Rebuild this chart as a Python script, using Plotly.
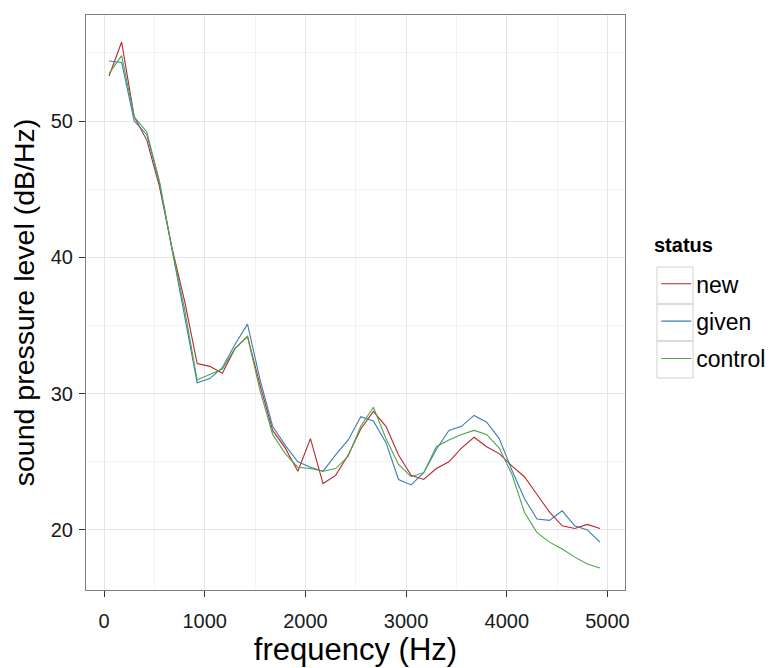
import plotly.graph_objects as go

freq = [50, 175, 300, 425, 550, 675, 800, 925, 1050, 1175,
        1300, 1425, 1550, 1675, 1800, 1925, 2050, 2175, 2300, 2425,
        2550, 2675, 2800, 2925, 3050, 3175, 3300, 3425, 3550, 3675,
        3800, 3925, 4050, 4175, 4300, 4425, 4550, 4675, 4800, 4925]

new = [53.3, 55.8, 50.3, 48.6, 45.2, 40.7, 36.8, 32.2, 32.0, 31.5,
       33.3, 34.2, 30.6, 27.3, 26.0, 24.3, 26.7, 23.4, 24.0, 25.5,
       27.4, 28.7, 27.6, 25.5, 24.0, 23.7, 24.5, 25.0, 26.0, 26.8,
       26.1, 25.6, 24.7, 23.9, 22.6, 21.3, 20.3, 20.1, 20.4, 20.1]

given = [54.4, 54.3, 50.0, 49.0, 45.5, 40.5, 35.8, 30.8, 31.1, 31.9,
         33.6, 35.1, 31.0, 27.6, 26.2, 25.0, 24.6, 24.3, 25.5, 26.6,
         28.3, 28.0, 26.4, 23.7, 23.3, 24.2, 25.9, 27.3, 27.6, 28.4,
         27.9, 26.7, 24.4, 22.3, 20.8, 20.7, 21.4, 20.3, 20.0, 19.1]

control = [53.5, 54.8, 50.3, 49.2, 45.6, 40.6, 36.2, 31.0, 31.4, 31.8,
           33.3, 34.2, 30.2, 27.0, 25.6, 24.6, 24.5, 24.3, 24.5, 25.4,
           27.6, 29.0, 26.7, 24.8, 23.9, 24.2, 26.1, 26.6, 27.0, 27.3,
           27.0, 26.0, 24.1, 21.3, 19.8, 19.1, 18.6, 18.0, 17.5, 17.2]

series = [("new", new, "#B8262E"), ("given", given, "#3A7DB4"), ("control", control, "#4DA64A")]

FONT = "Liberation Sans, Arial, sans-serif"

fig = go.Figure()
for i, (name, vals, col) in enumerate(series):
    fig.add_trace(go.Scatter(x=freq, y=vals, mode="lines", name=name,
                             legendgroup=name,
                             line=dict(color=col, width=1.1)))

axis_common = dict(
    showline=True, mirror=True, linecolor="#7F7F7F", linewidth=1,
    showgrid=True, gridcolor="#E6E6E6", gridwidth=1.2,
    zeroline=False, ticks="outside", ticklen=6, tickcolor="#333333",
    tickfont=dict(family=FONT, size=20, color="#1A1A1A"),
    automargin=False,
)

fig.update_xaxes(range=[-179, 5174], tickvals=[0, 1000, 2000, 3000, 4000, 5000],
                 ticklabelstandoff=7,
                 minor=dict(tickvals=[500, 1500, 2500, 3500, 4500], showgrid=True,
                            gridcolor="#F3F3F3", gridwidth=0.7, ticks=""),
                 title=dict(text="frequency (Hz)", font=dict(family=FONT, size=31, color="#000"),
                            standoff=2),
                 **axis_common)
fig.update_yaxes(range=[15.59, 57.78], tickvals=[20, 30, 40, 50],
                 ticklabelstandoff=2,
                 minor=dict(tickvals=[25, 35, 45, 55], showgrid=True,
                            gridcolor="#F3F3F3", gridwidth=0.7, ticks=""),
                 title=dict(text="sound pressure level (dB/Hz)", font=dict(family=FONT, size=28.5, color="#000"),
                            standoff=7),
                 **axis_common)

# legend key boxes (ggplot style)
shapes = []
for j in range(3):
    y0 = 0.5617 - j * 0.0643
    shapes.append(dict(type="rect", xref="paper", yref="paper",
                       x0=1.0594, x1=1.1262, y0=y0 - 0.0643, y1=y0,
                       line=dict(color="#D0D0D0", width=1), fillcolor="rgba(0,0,0,0)", layer="below"))

fig.update_layout(
    width=774, height=668,
    margin=dict(l=78, r=157, t=7, b=86),
    plot_bgcolor="white", paper_bgcolor="white",
    font=dict(family=FONT),
    shapes=shapes,
    annotations=[dict(text="<b>status</b>", xref="paper", yref="paper", x=1.05, y=0.6,
                      xanchor="left", yanchor="middle", showarrow=False,
                      font=dict(family=FONT, size=20, color="#000"))],
    legend=dict(x=1.058, y=0.57, xanchor="left", yanchor="top",
                font=dict(family=FONT, size=23, color="#000"),
                tracegroupgap=4.5, bgcolor="rgba(0,0,0,0)"),
)

fig.write_html("out.html")
